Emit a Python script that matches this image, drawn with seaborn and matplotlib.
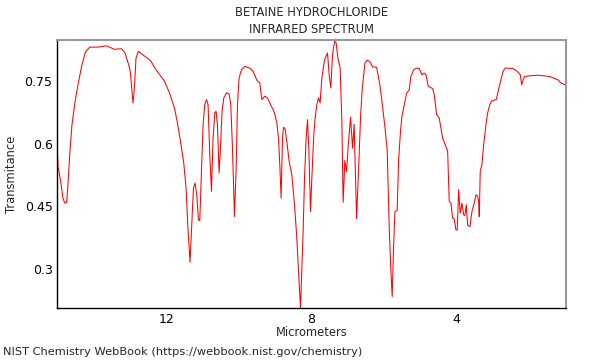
import matplotlib
matplotlib.use("Agg")
import matplotlib.pyplot as plt
import seaborn as sns
import pandas as pd
from matplotlib.ticker import MultipleLocator, FixedLocator

# ================================================
#  Datos del espectro
# ================================================

micrometros = [
    15.00, 14.985, 14.911, 14.847, 14.800, 14.745, 14.709, 14.662, 14.599, 14.505,
    14.414, 14.323, 14.229, 14.111, 13.882, 13.650, 13.559, 13.440, 13.236, 13.145,
    13.034, 12.988, 12.952, 12.916, 12.877, 12.833, 12.767, 12.648, 12.491, 12.419,
    12.281, 12.143, 12.049, 11.911, 11.773, 11.682, 11.591, 11.517, 11.453, 11.406,
    11.343, 11.296, 11.249, 11.205, 11.158, 11.111, 11.075, 11.028, 10.984, 10.937,
    10.890, 10.846, 10.799, 10.752, 10.708, 10.661, 10.625, 10.587, 10.543, 10.504,
    10.460, 10.413, 10.339, 10.267, 10.220, 10.173, 10.118, 10.074, 10.035, 9.991,
    9.925, 9.834, 9.696, 9.604, 9.494, 9.420, 9.364, 9.282, 9.207, 9.124,
    9.053, 9.014, 8.950, 8.904, 8.868, 8.832, 8.793, 8.766, 8.721, 8.675,
    8.611, 8.537, 8.462, 8.399, 8.352, 8.297, 8.261, 8.225, 8.186, 8.142,
    8.103, 8.068, 8.021, 7.976, 7.930, 7.894, 7.847, 7.800, 7.756, 7.709,
    7.634, 7.552, 7.507, 7.461, 7.414, 7.358, 7.314, 7.267, 7.204, 7.157,
    7.121, 7.074, 7.027, 6.983, 6.917, 6.862, 6.818, 6.751, 6.696, 6.641,
    6.597, 6.522, 6.459, 6.384, 6.310, 6.199, 6.108, 6.034, 5.970, 5.907,
    5.852, 5.805, 5.769, 5.730, 5.694, 5.631, 5.592, 5.537, 5.501, 5.446,
    5.372, 5.300, 5.253, 5.170, 5.079, 5.024, 4.949, 4.886, 4.839, 4.776,
    4.654, 4.610, 4.544, 4.472, 4.425, 4.378, 4.307, 4.240, 4.196, 4.149,
    4.102, 4.058, 4.011, 3.975, 3.937, 3.893, 3.846, 3.799, 3.763, 3.727,
    3.688, 3.625, 3.570, 3.506, 3.459, 3.412, 3.385, 3.368, 3.341, 3.294,
    3.247, 3.183, 3.137, 3.073, 3.018, 2.899, 2.805, 2.714, 2.651, 2.438,
    2.320, 2.237, 2.198, 2.162, 2.116, 1.933, 1.749, 1.426, 1.288, 1.197,
    1.122, 0.995,
]

transmitancia = [
    0.582, 0.546, 0.510, 0.470, 0.458, 0.460, 0.502, 0.573, 0.645, 0.705,
    0.749, 0.788, 0.818, 0.830, 0.830, 0.833, 0.830, 0.825, 0.826, 0.818,
    0.788, 0.770, 0.733, 0.697, 0.733, 0.804, 0.820, 0.812, 0.802, 0.796,
    0.776, 0.760, 0.749, 0.721, 0.685, 0.645, 0.597, 0.554, 0.494, 0.406,
    0.317, 0.406, 0.494, 0.506, 0.478, 0.418, 0.416, 0.534, 0.645, 0.693,
    0.705, 0.693, 0.573, 0.486, 0.613, 0.673, 0.677, 0.645, 0.530, 0.589,
    0.677, 0.709, 0.721, 0.718, 0.693, 0.589, 0.426, 0.534, 0.693, 0.756,
    0.776, 0.784, 0.780, 0.772, 0.750, 0.745, 0.705, 0.713, 0.709, 0.693,
    0.681, 0.673, 0.649, 0.613, 0.550, 0.470, 0.613, 0.639, 0.635, 0.605,
    0.558, 0.526, 0.454, 0.375, 0.295, 0.207, 0.295, 0.390, 0.518, 0.613,
    0.657, 0.589, 0.438, 0.534, 0.621, 0.661, 0.693, 0.709, 0.697, 0.756,
    0.800, 0.816, 0.764, 0.733, 0.812, 0.844, 0.840, 0.804, 0.780, 0.653,
    0.460, 0.560, 0.533, 0.593, 0.663, 0.589, 0.646, 0.421, 0.537, 0.664,
    0.728, 0.791, 0.799, 0.795, 0.783, 0.782, 0.740, 0.688, 0.640, 0.585,
    0.402, 0.298, 0.235, 0.354, 0.437, 0.441, 0.561, 0.632, 0.664, 0.688,
    0.720, 0.728, 0.760, 0.777, 0.780, 0.779, 0.764, 0.768, 0.765, 0.737,
    0.731, 0.717, 0.669, 0.661, 0.637, 0.613, 0.597, 0.582, 0.462, 0.458,
    0.422, 0.420, 0.394, 0.394, 0.490, 0.434, 0.458, 0.430, 0.428, 0.454,
    0.405, 0.402, 0.438, 0.458, 0.478, 0.474, 0.462, 0.426, 0.534, 0.550,
    0.597, 0.645, 0.673, 0.694, 0.702, 0.705, 0.740, 0.772, 0.780, 0.779,
    0.772, 0.764, 0.740, 0.752, 0.760, 0.762, 0.763, 0.760, 0.755, 0.752,
    0.745, 0.740,
]

ticks_x = [12, 8, 4]
ticks_y = [0.3, 0.45, 0.6, 0.75]

espectro = pd.DataFrame({'Micrometros': micrometros, 'Transmitancia': transmitancia})

# ================================================
#  Grafico del espectro IR
# ================================================

sns.set_style('white')
plt.rcParams['font.family'] = ['DejaVu Sans']

fig = plt.figure(figsize=(6, 3.6), dpi=100)
ax = fig.add_axes([0.0957, 0.1436, 0.9428 - 0.0957, 0.8889 - 0.1436])

sns.lineplot(data=espectro, x='Micrometros', y='Transmitancia', sort=False,
             estimator=None, color='red', linewidth=0.75, ax=ax)

ax.set_xlim(15.0, 0.985)
ax.set_ylim(0.207, 0.847)

ax.xaxis.set_major_locator(FixedLocator(ticks_x))
ax.xaxis.set_minor_locator(MultipleLocator(1))
ax.yaxis.set_major_locator(FixedLocator(ticks_y))
ax.yaxis.set_minor_locator(MultipleLocator(0.05))
ax.set_xticklabels([str(t) for t in ticks_x])
ax.set_yticklabels([str(t) for t in ticks_y])

ax.tick_params(which='both', direction='in', labelsize=9, colors='black')
ax.tick_params(which='major', length=4, width=0.8)
ax.tick_params(which='minor', length=3, width=0.6)

# Bordes: arriba y derecha en gris
for lado in ['top', 'right']:
    ax.spines[lado].set_color('#999999')
    ax.spines[lado].set_linewidth(1.5)
for lado in ['left', 'bottom']:
    ax.spines[lado].set_color('black')
    ax.spines[lado].set_linewidth(1.0)

ax.set_title('BETAINE HYDROCHLORIDE\nINFRARED SPECTRUM', fontsize=8.3,
             linespacing=1.45, pad=5)
ax.set_xlabel('Micrometers', fontsize=8.3, labelpad=0)
ax.set_ylabel('Transmitance', fontsize=8.3, labelpad=5)

fig.text(0.005, 0.022, 'NIST Chemistry WebBook (https://webbook.nist.gov/chemistry)',
         fontsize=8.2, ha='left', va='center')

fig.savefig('out.png', dpi=100)
